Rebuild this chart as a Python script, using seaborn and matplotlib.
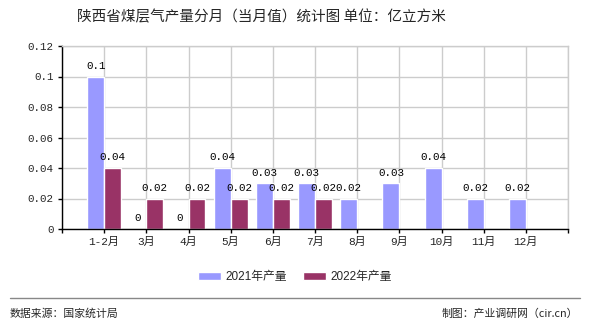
import numpy as np
import pandas as pd
import matplotlib
matplotlib.use("Agg")
import matplotlib.pyplot as plt
from matplotlib.lines import Line2D
import seaborn as sns

months = ["1-2月", "3月", "4月", "5月", "6月", "7月", "8月", "9月", "10月", "11月", "12月"]
v2021 = [0.1, 0, 0, 0.04, 0.03, 0.03, 0.02, 0.03, 0.04, 0.02, 0.02]
v2022 = [0.04, 0.02, 0.02, 0.02, 0.02, 0.02, np.nan, np.nan, np.nan, np.nan, np.nan]
series = ["2021年产量", "2022年产量"]
colors = ["#9999FF", "#993366"]
yticks = [0, 0.02, 0.04, 0.06, 0.08, 0.1, 0.12]

df = pd.DataFrame({
    "month": months * 2,
    "series": [series[0]] * len(months) + [series[1]] * len(months),
    "value": v2021 + v2022,
}).dropna()

sns.set_style("white")
plt.rcParams['font.family'] = ['Liberation Mono', 'Noto Sans CJK SC', 'DejaVu Sans']

fig = plt.figure(figsize=(5.9, 3.3), dpi=100)
ax = fig.add_axes([62 / 590, 101 / 330, 506 / 590, 183 / 330])
sns.barplot(data=df, x="month", y="value", hue="series", order=months,
            hue_order=series, palette=colors, errorbar=None, width=0.8,
            saturation=1, ax=ax, legend=True)

for cont in ax.containers:
    ax.bar_label(cont, fmt=lambda v: f"{v:g}", padding=4, fontsize=7.8,
                 color="black")

ax.set_xlim(-1, 11)
ax.set_ylim(0, 0.12)
ax.set_xticks(range(-1, 12))
ax.set_xticklabels([""] + months + [""], fontsize=8)
ax.set_yticks(yticks)
ax.set_yticklabels([f"{v:g}" for v in yticks], fontsize=7.8)
ax.set_xlabel("")
ax.set_ylabel("")
ax.tick_params(axis="both", bottom=True, left=True, length=3, width=1,
               color="black", direction="out", pad=3)
ax.grid(True, color="#cccccc", lw=1)
ax.set_axisbelow(True)
for s in ["left", "bottom"]:
    ax.spines[s].set_color("black")
    ax.spines[s].set_linewidth(1)
for s in ["top", "right"]:
    ax.spines[s].set_color("#cccccc")
    ax.spines[s].set_linewidth(1)

handles, labels = ax.get_legend_handles_labels()
ax.get_legend().remove()
fig.legend(handles, labels, loc="center", bbox_to_anchor=(0.5, 1 - 277 / 330),
           ncol=2, frameon=False, handlelength=1.9, handleheight=0.7,
           handletextpad=0.4, columnspacing=1.4,
           prop={"family": ["Liberation Sans", "Noto Sans CJK SC"], "size": 8.5})

fig.text(261 / 590, 1 - 17 / 330, "陕西省煤层气产量分月（当月值）统计图 单位：亿立方米",
         ha="center", va="center", fontsize=10.5,
         family=["Noto Sans CJK SC", "DejaVu Sans"])

fig.add_artist(Line2D([10 / 590, 580 / 590], [1 - 298 / 330] * 2,
                      color="#888888", lw=1))
fig.text(10 / 590, 1 - 314 / 330, "数据来源：国家统计局", ha="left", va="center",
         fontsize=7.8, family=["Noto Sans CJK SC", "DejaVu Sans"])
fig.text(578 / 590, 1 - 314 / 330, "制图：产业调研网（cir.cn）", ha="right", va="center",
         fontsize=7.8, family=["Noto Sans CJK SC", "DejaVu Sans"])

fig.savefig("out.png", dpi=100)
